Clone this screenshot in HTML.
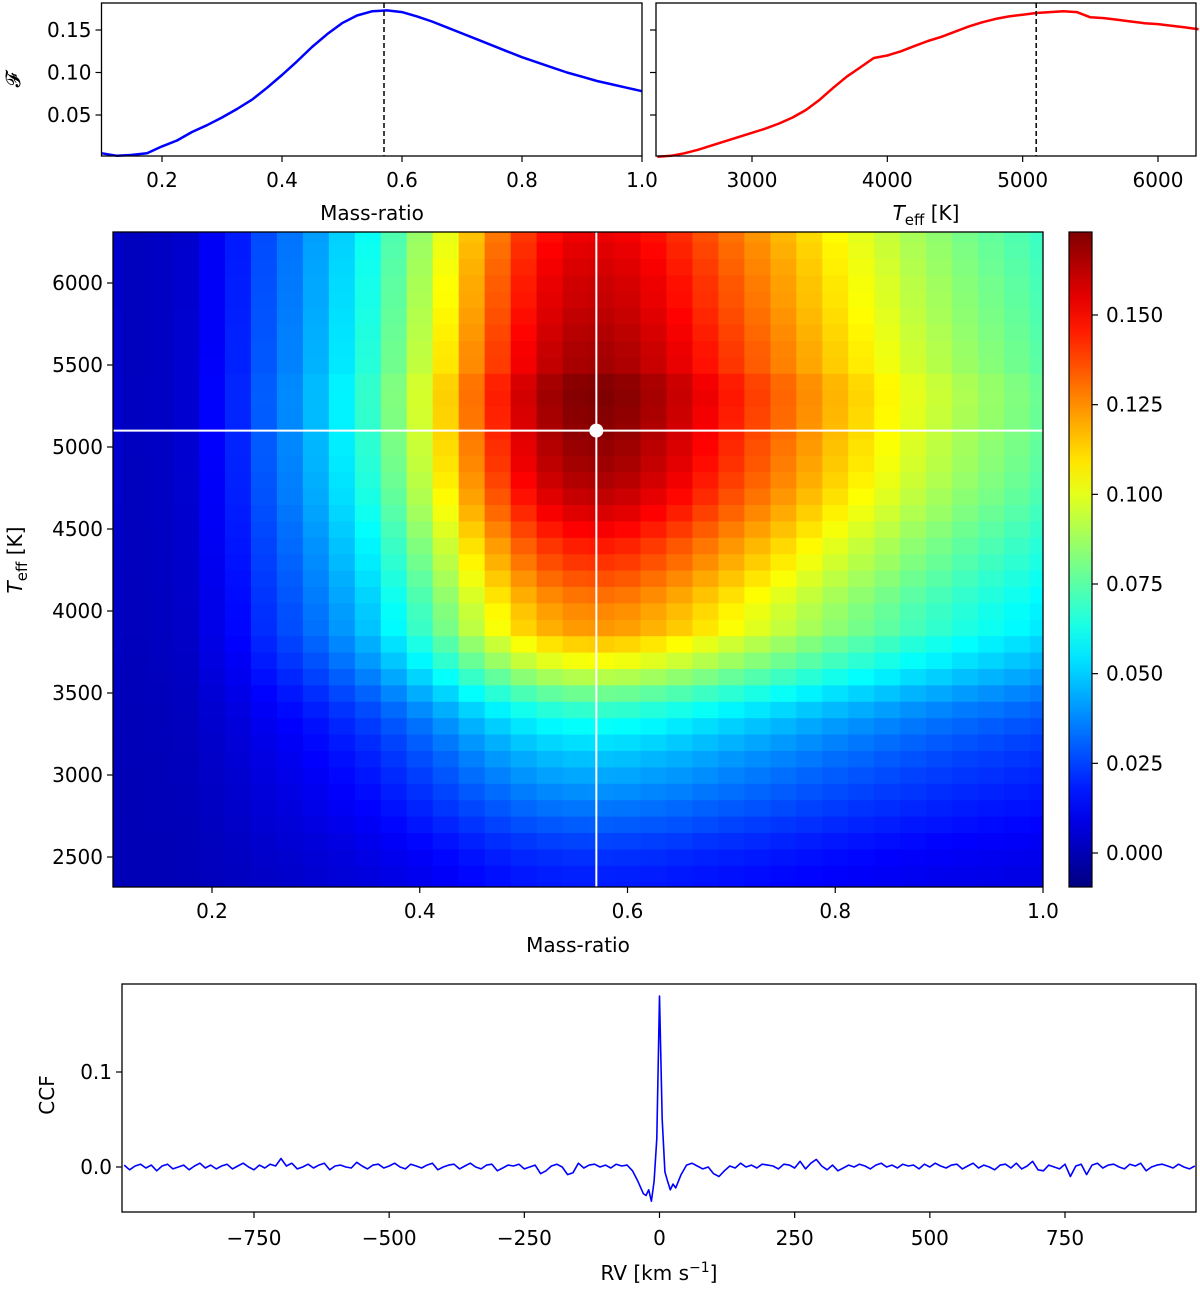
<!DOCTYPE html>
<html><head><meta charset="utf-8"><style>
body{margin:0;background:#fff}
svg text{font-family:"DejaVu Sans","Liberation Sans",sans-serif;font-size:20px;fill:#000}
</style></head><body>
<svg id="s" width="1200" height="1284" xmlns="http://www.w3.org/2000/svg"></svg>
<script>
const qCats=[0.1,0.125,0.15,0.175,0.2,0.225,0.25,0.275,0.3,0.325,0.35,0.375,0.4,0.425,0.45,0.475,0.5,0.525,0.55,0.575,0.6,0.625,0.65,0.675,0.7,0.725,0.75,0.775,0.8,0.825,0.85,0.875,0.9,0.925,0.95,0.975,1.0];
const qF=[0.005,0.002,0.003,0.005,0.013,0.02,0.03,0.038,0.047,0.057,0.068,0.082,0.097,0.113,0.13,0.145,0.158,0.167,0.172,0.173,0.171,0.166,0.16,0.153,0.146,0.139,0.132,0.125,0.118,0.112,0.106,0.1,0.095,0.09,0.086,0.082,0.078];
const tCats=[2300,2400,2500,2600,2700,2800,2900,3000,3100,3200,3300,3400,3500,3600,3700,3800,3900,4000,4100,4200,4300,4400,4500,4600,4700,4800,4900,5000,5100,5200,5300,5400,5500,5600,5700,5800,5900,6000,6100,6200,6300];
const tF=[0.001,0.002,0.005,0.009,0.014,0.019,0.024,0.029,0.034,0.040,0.047,0.056,0.068,0.082,0.095,0.106,0.117,0.120,0.125,0.131,0.137,0.142,0.148,0.154,0.159,0.163,0.166,0.168,0.170,0.171,0.172,0.171,0.165,0.164,0.162,0.160,0.158,0.157,0.155,0.153,0.151];
const bestQ=0.57, bestT=5100;
const rvLeft=[-990,-980,-970,-960,-950,-940,-930,-920,-910,-900,-890,-880,-870,-860,-850,-840,-830,-820,-810,-800,-790,-780,-770,-760,-750,-740,-730,-720,-710,-700,-690,-680,-670,-660,-650,-640,-630,-620,-610,-600,-590,-580,-570,-560,-550,-540,-530,-520,-510,-500,-490,-480,-470,-460,-450,-440,-430,-420,-410,-400,-390,-380,-370,-360,-350,-340,-330,-320,-310,-300,-290,-280,-270,-260,-250,-240,-230,-220,-210,-200,-190,-180,-170,-160,-150,-140,-130,-120,-110,-100,-90,-80,-70,-60];
const ccfLeft=[0.002,-0.003,0.001,0.003,-0.001,0.002,-0.004,0.001,0.003,-0.002,0.000,0.002,-0.003,0.001,0.004,-0.001,0.002,-0.002,0.001,0.003,-0.002,0.001,0.004,0.000,-0.003,0.002,-0.001,0.003,0.001,0.009,0.001,0.004,-0.002,0.000,0.003,-0.001,0.002,0.004,-0.003,0.001,0.002,0.000,-0.001,0.005,0.001,-0.002,0.002,0.003,-0.001,0.001,0.004,0.000,-0.002,0.003,0.001,-0.001,0.002,0.004,-0.003,0.000,0.002,0.003,-0.002,0.001,0.004,0.000,-0.002,0.002,0.003,-0.004,-0.001,0.002,0.001,0.003,-0.002,0.000,0.002,-0.007,-0.004,0.001,0.003,0.000,-0.008,-0.006,0.004,-0.001,0.002,0.003,0.000,0.002,-0.001,0.003,0.001,0.002];
const rvPeak=[-50,-40,-30,-25,-20,-15,-10,-5,0,5,10,15,20,25,30,40,50];
const ccfPeak=[-0.004,-0.015,-0.028,-0.03,-0.024,-0.036,-0.015,0.03,0.18,0.05,-0.005,-0.015,-0.024,-0.018,-0.022,-0.008,0.002];
const rvRight=[60,70,80,90,100,110,120,130,140,150,160,170,180,190,200,210,220,230,240,250,260,270,280,290,300,310,320,330,340,350,360,370,380,390,400,410,420,430,440,450,460,470,480,490,500,510,520,530,540,550,560,570,580,590,600,610,620,630,640,650,660,670,680,690,700,710,720,730,740,750,760,770,780,790,800,810,820,830,840,850,860,870,880,890,900,910,920,930,940,950,960,970,980,990];
const ccfRight=[0.004,0.001,-0.002,0.000,-0.007,-0.010,-0.004,0.001,-0.001,0.004,0.000,0.002,-0.001,0.003,0.002,0.001,-0.002,0.003,0.002,-0.001,0.006,-0.002,0.004,0.008,0.001,-0.003,0.002,-0.004,-0.001,0.002,0.000,0.003,0.001,-0.002,0.002,0.004,0.000,0.002,-0.001,0.003,0.001,0.002,-0.002,0.003,0.000,0.004,0.001,-0.001,0.002,0.003,-0.002,0.001,0.004,-0.001,0.002,0.000,-0.003,0.002,0.003,-0.001,0.004,-0.002,0.001,0.006,-0.003,-0.004,0.002,0.000,-0.002,0.003,-0.010,0.001,0.003,-0.008,0.002,0.004,-0.001,0.002,0.003,0.000,-0.002,0.003,0.001,0.004,-0.004,0.000,0.002,0.003,0.001,-0.001,0.003,0.000,-0.002,0.001];
const qTicks=[0.2,0.4,0.6,0.8,1.0];
const fTicks=[0.05,0.10,0.15];
const tTicksTop=[3000,4000,5000,6000];
const tTicksMain=[2500,3000,3500,4000,4500,5000,5500,6000];
const cbTicks=[0,0.025,0.05,0.075,0.1,0.125,0.15];
const rvTicks=[-750,-500,-250,0,250,500,750];
const ccfTicks=[0.0,0.1];

const S=document.getElementById('s');const NS='http://www.w3.org/2000/svg';
function el(t,a,p){const e=document.createElementNS(NS,t);for(const k in a)e.setAttribute(k,a[k]);(p||S).appendChild(e);return e;}
function lin(d0,d1,r0,r1){return v=>r0+(v-d0)/(d1-d0)*(r1-r0);}
function jet(v){v=Math.max(0,Math.min(1,v));const r=Math.max(0,Math.min(1,1.5-Math.abs(4*v-3))),g=Math.max(0,Math.min(1,1.5-Math.abs(4*v-2))),b=Math.max(0,Math.min(1,1.5-Math.abs(4*v-1)));return `rgb(${Math.round(r*255)},${Math.round(g*255)},${Math.round(b*255)})`;}
function txt(x,y,s,anchor,name){const t=el('text',{x:x,y:y,'text-anchor':anchor||'middle'});t.innerHTML=s;return t;}
function frame(x0,y0,x1,y1,name){const r=el('rect',{x:x0,y:y0,width:x1-x0,height:y1-y0,fill:'none',stroke:'#000','stroke-width':1.3});}
function xt(x,y){const l=el('line',{x1:x,x2:x,y1:y,y2:y+6,stroke:'#000','stroke-width':1.2});}
function yt(x,y){const l=el('line',{x1:x,x2:x-6,y1:y,y2:y,stroke:'#000','stroke-width':1.2});}
function path(xs,ys,sx,sy,col,w,name){let d='';for(let i=0;i<xs.length;i++)d+=(i?'L':'M')+sx(xs[i]).toFixed(1)+','+sy(ys[i]).toFixed(1);const p=el('path',{d:d,fill:'none',stroke:col,'stroke-width':w,'stroke-linejoin':'round'});}
const TEFF='<tspan font-style="italic">T</tspan><tspan font-size="15" dy="5">eff</tspan><tspan dy="-5"> [K]</tspan>';

// top-left
{const X0=101.5,X1=642,Y0=3,Y1=156;const sx=lin(0.2,1.0,162,642),sy=lin(0,0.15,157.5,30);
path(qCats,qF,sx,sy,'#0000ff',2.5,'mass-ratio-curve');
const d=el('line',{x1:sx(bestQ),x2:sx(bestQ),y1:Y0,y2:Y1,stroke:'#000','stroke-width':1.5,'stroke-dasharray':'5,3'});
frame(X0,Y0,X1,Y1,'mass-ratio-panel');
qTicks.forEach(v=>{xt(sx(v),Y1);txt(sx(v),Y1+31,v.toFixed(1));});
fTicks.forEach(v=>{yt(X0,sy(v));txt(X0-10,sy(v)+7,v.toFixed(2),'end');});
txt(372,220,'Mass-ratio','middle','x-axis-title');
const t=txt(0,0,'𝓕','middle','y-axis-title');t.setAttribute('transform','translate(20,80) rotate(-90)');}
// top-right
{const X0=656,X1=1196,Y0=3,Y1=156;const sx=lin(3000,6000,752,1158),sy=lin(0,0.15,157.5,30);
path(tCats,tF,sx,sy,'#ff0000',2.5,'teff-curve');
const d=el('line',{x1:sx(bestT),x2:sx(bestT),y1:Y0,y2:Y1,stroke:'#000','stroke-width':1.5,'stroke-dasharray':'5,3'});
frame(X0,Y0,X1,Y1,'teff-panel');
tTicksTop.forEach(v=>{xt(sx(v),Y1);txt(sx(v),Y1+31,v);});
fTicks.forEach(v=>{yt(X0,sy(v));});
txt(926,220,TEFF,'middle','x-axis-title');}
// heatmap
{const X0=113,X1=1043,Y0=232,Y1=887;const sx=lin(0.2,1.0,212,1043),sy=lin(2500,6000,857,283);const cv=lin(-0.0095,0.173,0,1);
const g=el('g',{});
const cp=el('clipPath',{id:'hc'});el('rect',{x:X0,y:Y0,width:X1-X0,height:Y1-Y0},cp);g.setAttribute('clip-path','url(#hc)');
const peak=Math.max(...tF);
for(let i=0;i<qCats.length;i++)for(let j=0;j<tCats.length;j++){
 const v=qF[i]*(0.1+0.9*tF[j]/peak);
 const xa=sx(qCats[i]-0.0125),xb=sx(qCats[i]+0.0125),ya=sy(tCats[j]+50),yb=sy(tCats[j]-50);
 const r=el('rect',{x:xa,y:ya,width:xb-xa+0.6,height:yb-ya+0.6,fill:jet(cv(v))},g);
 
 }
const l1=el('line',{x1:sx(bestQ),x2:sx(bestQ),y1:Y0,y2:Y1,stroke:'#fff','stroke-width':2});
const l2=el('line',{x1:X0,x2:X1,y1:sy(bestT),y2:sy(bestT),stroke:'#fff','stroke-width':2});
const c=el('circle',{cx:sx(bestQ),cy:sy(bestT),r:7,fill:'#fff'});
frame(X0,Y0,X1,Y1,'heatmap-panel');
qTicks.forEach(v=>{xt(sx(v),Y1);txt(sx(v),Y1+31,v.toFixed(1));});
tTicksMain.forEach(v=>{yt(X0,sy(v));txt(X0-10,sy(v)+7,v,'end');});
txt(578,952,'Mass-ratio','middle','x-axis-title');
const t=txt(0,0,TEFF,'middle','y-axis-title');t.setAttribute('transform','translate(22,560) rotate(-90)');
// colorbar
const CX0=1069,CX1=1092;const cy=lin(0,0.15,853,315);
const gr=el('linearGradient',{id:'jg',x1:0,y1:1,x2:0,y2:0});for(let k=0;k<=20;k++)el('stop',{offset:k/20,'stop-color':jet(k/20)},gr);
const cb=el('rect',{x:CX0,y:Y0,width:CX1-CX0,height:Y1-Y0,fill:'url(#jg)',stroke:'#000','stroke-width':1.2});
cbTicks.forEach(v=>{const l=el('line',{x1:CX1,x2:CX1+6,y1:cy(v),y2:cy(v),stroke:'#000','stroke-width':1.2});txt(CX1+14,cy(v)+7,v.toFixed(3),'start','colorbar-label');});}
// CCF
{const X0=122,X1=1196,Y0=984,Y1=1212;const sx=lin(-750,750,254,1065),sy=lin(0,0.1,1167,1072);
const xs=rvLeft.concat(rvPeak,rvRight),ys=ccfLeft.concat(ccfPeak,ccfRight);
path(xs,ys,sx,sy,'#0000ff',1.6,'ccf-line');
frame(X0,Y0,X1,Y1,'ccf-panel');
rvTicks.forEach(v=>{xt(sx(v),Y1);txt(sx(v),Y1+33,v<0?'−'+(-v):v);});
ccfTicks.forEach(v=>{yt(X0,sy(v));txt(X0-10,sy(v)+7,v.toFixed(1),'end');});
txt(659,1280,'RV [km s<tspan font-size="14" dy="-8">−1</tspan><tspan dy="8">]</tspan>','middle','x-axis-title');
const t=txt(0,0,'CCF','middle','y-axis-title');t.setAttribute('transform','translate(54,1095) rotate(-90)');}
</script>
</body></html>
